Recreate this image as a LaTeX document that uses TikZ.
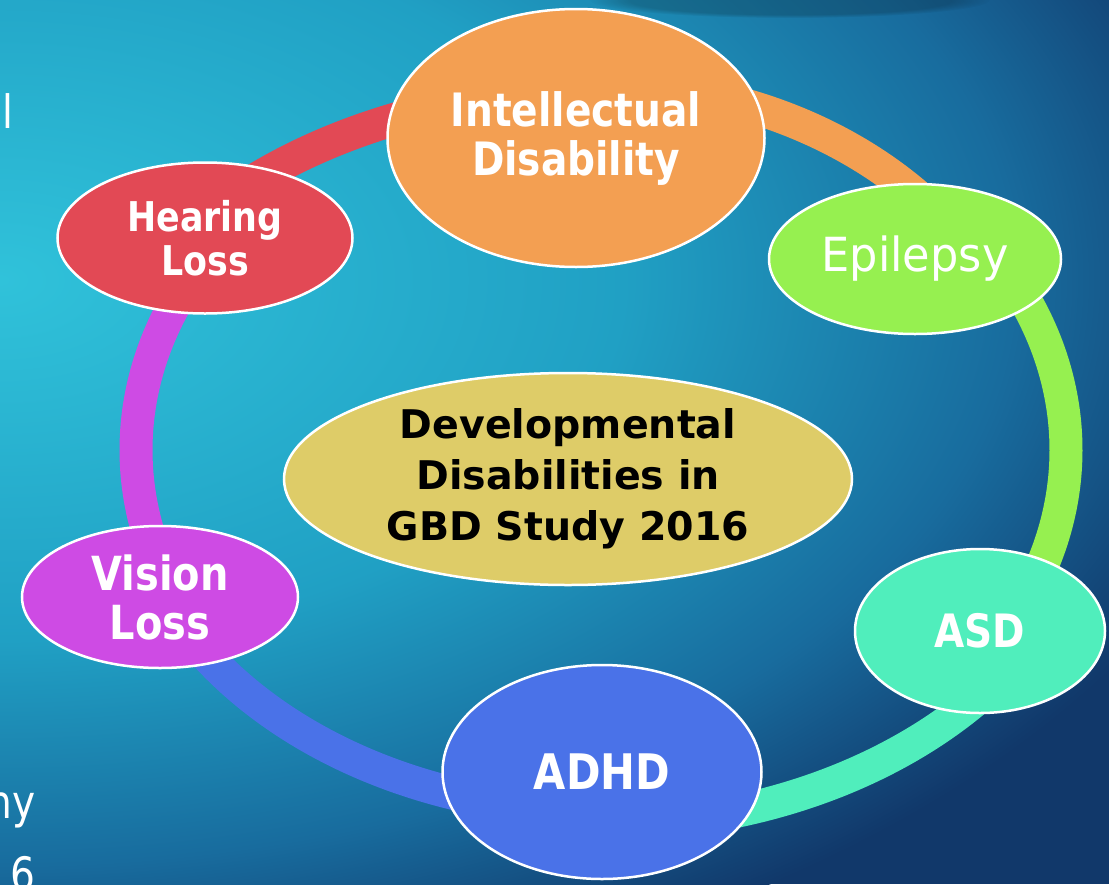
\documentclass[tikz,border=0pt]{standalone}
\usepackage{fontspec}
\setmainfont{DejaVu Sans}
\newfontfamily\bubblefont{DejaVu Sans}[FakeStretch=0.85]
\newfontfamily\epilfont{DejaVu Sans}[FakeStretch=0.95]
\usetikzlibrary{shapes.geometric, calc, fadings}

\definecolor{bgcyan}{RGB}{48,194,218}
\definecolor{bgteal}{RGB}{32,160,196}
\definecolor{bgblue}{RGB}{24,108,158}
\definecolor{bgnavy}{RGB}{17,56,106}
\pgfdeclareradialshading{slideglow}{\pgfpoint{0bp}{0bp}}{color(0bp)=(bgcyan); color(12bp)=(bgteal); color(19.5bp)=(bgblue); color(25bp)=(bgnavy); color(50bp)=(bgnavy)}

\definecolor{hearred}{RGB}{226,73,85}
\definecolor{intelorange}{RGB}{243,159,82}
\definecolor{epigreen}{RGB}{150,240,80}
\definecolor{asdmint}{RGB}{80,238,188}
\definecolor{adhdblue}{RGB}{74,114,232}
\definecolor{visionpurple}{RGB}{206,75,228}
\definecolor{coreyellow}{RGB}{222,204,104}

\begin{document}
\begin{tikzpicture}[x=1pt, y=-1pt,
    bubble/.style={ellipse, draw=white, line width=2.5pt, inner sep=0pt, align=center, text=white},
    ringarc/.style={line width=33pt, draw=#1},
    cutoff/.style={anchor=base east, inner sep=0pt, text=white, font=\bubblefont\fontsize{46}{46}\selectfont}]
    \useasboundingbox (0,0) rectangle (1109,884);
    \begin{scope}
        \clip (0,0) rectangle (1109,884);
        \fill[bgnavy] (0,0) rectangle (1109,884);
        \shade[shading=slideglow] (0,280) ellipse [x radius=1300, y radius=750];
        \fill[black, opacity=0.2, path fading=circle with fuzzy edge 20 percent] (790,0) ellipse [x radius=200, y radius=18];
        \node[cutoff] (frag1) at (14,128) {l};
        \node[cutoff] (frag2) at (36,818) {ny};
        \node[cutoff] (frag3) at (36,890) {6};
    \end{scope}

    % ring
    \coordinate (ctr) at (602,450);
    \coordinate (hearS) at ($(ctr)+(214:525 and 360)$);
    \coordinate (intelS) at ($(ctr)+(266:439 and 365)$);
    \coordinate (epilS) at ($(ctr)+(-37:464 and 365)$);
    \coordinate (asdS) at ($(ctr)+(32:501 and 375)$);
    \coordinate (adhdS) at ($(ctr)+(90:481 and 361)$);
    \coordinate (visionS) at ($(ctr)+(156:466 and 365)$);
    \draw[ringarc=hearred] (hearS) arc[start angle=214, end angle=266, x radius=525, y radius=360];
    \draw[ringarc=intelorange] (intelS) arc[start angle=266, end angle=323, x radius=439, y radius=365];
    \draw[ringarc=epigreen] (epilS) arc[start angle=-37, end angle=32, x radius=464, y radius=365];
    \draw[ringarc=asdmint] (asdS) arc[start angle=32, end angle=90, x radius=501, y radius=375];
    \draw[ringarc=adhdblue] (adhdS) arc[start angle=90, end angle=156, x radius=481, y radius=361];
    \draw[ringarc=visionpurple] (visionS) arc[start angle=156, end angle=214, x radius=466, y radius=365];

    \node[bubble, fill=intelorange, minimum width=377pt, minimum height=258pt,
        font=\bubblefont\bfseries\fontsize{46}{49}\selectfont] (intel) at (576,138) {Intellectual\\Disability};
    \node[bubble, fill=epigreen, minimum width=292pt, minimum height=150pt,
        font=\epilfont\fontsize{47}{49}\selectfont] (epil) at (915,259) {Epilepsy};
    \node[bubble, fill=asdmint, minimum width=250pt, minimum height=164pt,
        font=\bubblefont\bfseries\fontsize{46}{49}\selectfont] (asd) at (980,631) {ASD};
    \node[bubble, fill=adhdblue, minimum width=319pt, minimum height=214pt,
        font=\bubblefont\bfseries\fontsize{49}{49}\selectfont] (adhd) at (602,772) {ADHD};
    \node[bubble, fill=visionpurple, minimum width=276pt, minimum height=142pt,
        font=\bubblefont\bfseries\fontsize{47}{49}\selectfont] (vision) at (160,597) {Vision\\Loss};
    \node[bubble, fill=hearred, minimum width=295pt, minimum height=151pt,
        font=\bubblefont\bfseries\fontsize{41}{44}\selectfont] (hear) at (205,238) {Hearing\\Loss};
    \node[bubble, fill=coreyellow, text=black, minimum width=568pt, minimum height=212pt,
        font=\bfseries\fontsize{39.5}{51}\selectfont] (core) at (568,479) {Developmental\\Disabilities in\\GBD Study 2016};
\end{tikzpicture}
\end{document}
